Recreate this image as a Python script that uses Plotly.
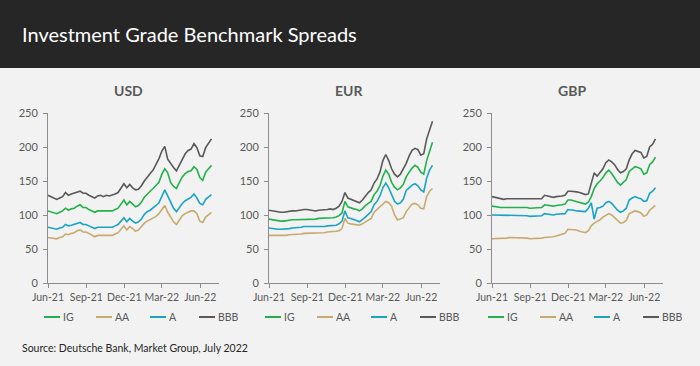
import plotly.graph_objects as go
import pandas as pd

W, H = 700, 366

# ---------------- data (weekly readings, bp) ----------------
dates = pd.date_range("2021-06-01", periods=57, freq="7D")

series_names = ["IG", "AA", "A", "BBB"]
series_colors = ["#22b14c", "#c8aa6e", "#1ba3c6", "#595959"]
panel_titles = ["USD", "EUR", "GBP"]

tick_vals = ["2021-06-01", "2021-09-01", "2021-12-01", "2022-03-01", "2022-06-01"]
tick_text = ["Jun-21", "Sep-21", "Dec-21", "Mar-22", "Jun-22"]
y_ticks = [0, 50, 100, 150, 200, 250]

usd_ig = [106, 105, 103, 102, 104, 106, 110, 107, 109, 110, 113, 115, 111, 111, 108, 106, 104, 106, 106, 105,
          106, 106, 106, 108, 110, 116, 122, 115, 120, 116, 112, 114, 119, 126, 131, 135, 139, 143, 148, 160,
          168, 162, 148, 142, 139, 148, 156, 161, 164, 165, 171, 167, 155, 151, 163, 168, 173]
usd_aa = [67, 66, 65, 65, 67, 68, 72, 71, 73, 74, 77, 78, 75, 75, 73, 70, 68, 70, 70, 69,
          70, 70, 70, 72, 74, 79, 84, 78, 83, 80, 76, 78, 83, 88, 91, 93, 96, 98, 102, 108,
          114, 104, 96, 90, 86, 92, 99, 102, 104, 106, 106, 102, 91, 89, 97, 101, 104]
usd_a = [82, 81, 80, 79, 81, 82, 86, 84, 85, 86, 88, 89, 86, 86, 84, 82, 80, 82, 82, 81,
         82, 82, 82, 84, 86, 91, 96, 90, 95, 91, 88, 90, 94, 101, 105, 107, 110, 114, 118, 128,
         137, 128, 119, 110, 105, 112, 117, 121, 123, 126, 131, 125, 117, 115, 123, 126, 130]
usd_bbb = [129, 127, 125, 123, 125, 127, 133, 129, 131, 132, 134, 135, 132, 132, 129, 127, 125, 128, 129, 127,
           129, 128, 129, 131, 133, 139, 146, 140, 145, 140, 137, 138, 143, 150, 156, 161, 166, 174, 183, 194,
           201, 182, 175, 170, 165, 174, 182, 190, 195, 197, 205, 199, 187, 186, 199, 205, 212]

eur_ig = [94, 93, 92, 91, 91, 91, 92, 92, 93, 93, 93, 94, 94, 94, 94, 94, 94, 95, 95, 95,
          96, 96, 96, 97, 99, 103, 120, 112, 110, 109, 108, 106, 109, 114, 117, 120, 130, 135, 143, 157,
          166, 160, 148, 141, 137, 140, 145, 156, 163, 169, 173, 170, 163, 160, 180, 193, 207]
eur_aa = [70, 70, 69, 69, 69, 70, 70, 71, 71, 72, 72, 72, 73, 73, 73, 73, 74, 74, 74, 74,
          75, 75, 75, 76, 77, 80, 95, 88, 87, 86, 86, 85, 87, 90, 92, 95, 104, 108, 112, 117,
          120, 118, 113, 100, 93, 94, 96, 105, 111, 116, 117, 115, 110, 109, 127, 135, 139]
eur_a = [81, 80, 80, 79, 79, 79, 80, 80, 81, 81, 82, 82, 83, 83, 82, 82, 82, 82, 83, 83,
         84, 84, 84, 85, 87, 91, 106, 96, 95, 94, 92, 90, 93, 97, 101, 105, 115, 120, 128, 140,
         147, 140, 130, 120, 116, 118, 123, 136, 140, 144, 146, 143, 137, 134, 154, 166, 173]
eur_bbb = [107, 106, 105, 104, 104, 104, 105, 105, 106, 106, 107, 108, 108, 108, 107, 107, 106, 107, 107, 108,
           108, 109, 108, 110, 113, 120, 133, 125, 123, 122, 120, 118, 122, 128, 133, 137, 147, 153, 163, 180,
           189, 180, 168, 160, 156, 160, 167, 176, 187, 195, 198, 196, 188, 190, 212, 225, 238]

gbp_ig = [113, 112, 112, 111, 111, 111, 112, 111, 111, 111, 111, 111, 111, 110, 110, 110, 110, 111, 115, 114,
          113, 113, 114, 114, 115, 116, 122, 122, 121, 120, 119, 117, 116, 119, 127, 139, 146, 150, 155, 162,
          166, 161, 155, 148, 144, 148, 152, 164, 168, 171, 170, 168, 160, 162, 174, 178, 185]
gbp_aa = [65, 65, 65, 66, 66, 66, 67, 67, 66, 66, 66, 66, 66, 65, 65, 65, 65, 66, 67, 67,
          68, 68, 69, 70, 71, 73, 79, 79, 79, 78, 76, 75, 74, 77, 84, 88, 90, 93, 97, 100,
          102, 100, 96, 91, 88, 89, 92, 102, 104, 106, 105, 103, 98, 100, 107, 111, 114]
gbp_a = [100, 100, 99, 99, 99, 99, 100, 99, 99, 99, 99, 99, 99, 98, 98, 98, 98, 99, 102, 101,
         100, 100, 101, 101, 101, 102, 108, 108, 107, 106, 106, 105, 105, 110, 118, 94, 110, 111, 113, 118,
         120, 117, 112, 107, 104, 106, 110, 122, 125, 127, 125, 124, 120, 121, 132, 135, 140]
gbp_bbb = [127, 126, 125, 124, 123, 124, 124, 123, 124, 124, 123, 124, 124, 123, 123, 123, 123, 124, 129, 128,
           127, 126, 127, 127, 128, 129, 135, 135, 135, 134, 133, 131, 130, 131, 146, 162, 157, 163, 168, 177,
           181, 178, 174, 167, 162, 164, 168, 181, 190, 195, 194, 192, 184, 186, 200, 204, 212]

panel_data = [
    [usd_ig, usd_aa, usd_a, usd_bbb],
    [eur_ig, eur_aa, eur_a, eur_bbb],
    [gbp_ig, gbp_aa, gbp_a, gbp_bbb],
]

# ---------------- layout geometry (pixels) ----------------
plot_left = [48, 269, 492]
plot_width = 171
plot_top, plot_bottom = 113, 283
legend_offsets = [-4, 48, 102, 151]
legend_y = 317

FONT = "Lato, 'Liberation Sans', Arial, sans-serif"
TXT = "#595959"


def fx(p):
    return p / W


def fy(p):
    return 1 - p / H


fig = go.Figure()
layout = dict(
    template="none",
    width=W, height=H, autosize=False,
    margin=dict(l=0, r=0, t=0, b=0, pad=0, autoexpand=False),
    paper_bgcolor="#f2f2f2",
    plot_bgcolor="rgba(0,0,0,0)",
    showlegend=False,
    font=dict(family=FONT, size=11, color=TXT),
)

shapes = [dict(type="rect", xref="paper", yref="paper", x0=0, x1=1, y0=fy(68), y1=1,
               fillcolor="#262626", line=dict(width=0), layer="below")]
annotations = [dict(text="Investment Grade Benchmark Spreads", xref="paper", yref="paper",
                    x=fx(20), y=fy(34), xanchor="left", yanchor="middle", showarrow=False,
                    font=dict(family=FONT, size=20, color="#ffffff")),
               dict(text="Source: Deutsche Bank, Market Group, July 2022", xref="paper", yref="paper",
                    x=fx(20), y=fy(348), xanchor="left", yanchor="middle", showarrow=False,
                    font=dict(family=FONT, size=10.5, color="#262626"))]

for i, (title, data) in enumerate(zip(panel_titles, panel_data)):
    n = "" if i == 0 else str(i + 1)
    for name, color, vals in zip(series_names, series_colors, data):
        fig.add_trace(go.Scatter(x=dates, y=vals, name=name, mode="lines",
                                 line=dict(color=color, width=1.6),
                                 xaxis="x" + n, yaxis="y" + n))
    x0 = plot_left[i]
    layout["xaxis" + n] = dict(
        domain=[fx(x0), fx(x0 + plot_width)], anchor="y" + n, automargin=False,
        type="date", range=["2021-06-01", "2022-07-16"],
        tickvals=tick_vals, ticktext=tick_text, tickangle=0,
        showline=True, linecolor="#8c8c8c", linewidth=1,
        ticks="outside", ticklen=4, tickcolor="#8c8c8c",
        showgrid=False, zeroline=False,
        tickfont=dict(family=FONT, size=10.5, color=TXT),
    )
    layout["yaxis" + n] = dict(
        domain=[fy(plot_bottom), fy(plot_top)], anchor="x" + n, automargin=False,
        range=[0, 250], tickvals=y_ticks,
        showline=True, linecolor="#8c8c8c", linewidth=1,
        ticks="outside", ticklen=4, tickcolor="#8c8c8c",
        showgrid=False, zeroline=False, ticklabelstandoff=3,
        tickfont=dict(family=FONT, size=11, color=TXT),
    )
    annotations.append(dict(text="<b>%s</b>" % title, xref="paper", yref="paper",
                            x=fx(x0 + 80), y=fy(90), xanchor="center", yanchor="middle",
                            showarrow=False, font=dict(family=FONT, size=14, color=TXT)))
    # legend (manual, below each panel)
    for off, name, color in zip(legend_offsets, series_names, series_colors):
        lx = x0 + off
        shapes.append(dict(type="line", xref="paper", yref="paper",
                           x0=fx(lx), x1=fx(lx + 16), y0=fy(legend_y), y1=fy(legend_y),
                           line=dict(color=color, width=2)))
        annotations.append(dict(text=name, xref="paper", yref="paper",
                                x=fx(lx + 17), y=fy(legend_y), xanchor="left", yanchor="middle",
                                showarrow=False, font=dict(family=FONT, size=10.5, color=TXT)))

layout["shapes"] = shapes
layout["annotations"] = annotations
fig.update_layout(**layout)
fig.write_html(
    "out.html",
    config={"displayModeBar": False},
    post_script=(
        "document.documentElement.style.margin='0';"
        "document.body.style.margin='0';document.body.style.padding='0';"
        "document.body.style.overflow='hidden';"
        "var gd=document.getElementById('{plot_id}');"
        "gd.style.position='fixed';gd.style.left='0px';gd.style.top='0px';"
    ),
)
